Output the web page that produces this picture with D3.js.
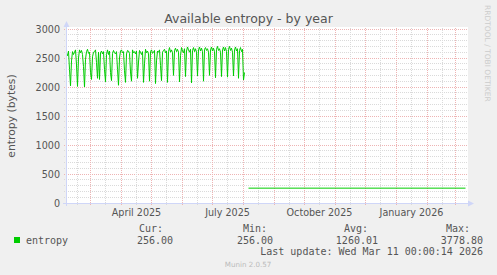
<!DOCTYPE html>
<html>
<head>
<meta charset="utf-8">
<script src="https://cdn.jsdelivr.net/npm/d3@7/dist/d3.min.js"></script>
<style>
  body { margin: 0; background: #f0f0f0; }
  svg text { font-family: "DejaVu Sans", sans-serif; }
  .mono { font-family: "DejaVu Sans Mono", monospace; }
</style>
</head>
<body>
<div id="chart"></div>
<script>
// ---- data ----
const chartTitle = 'Available entropy - by year';
const yLabel = 'entropy (bytes)';
const yTicks = [0, 500, 1000, 1500, 2000, 2500, 3000];
const monthLabels = ['2025-04-01', '2025-07-01', '2025-10-01', '2026-01-01'];
const monthLabelText = ['April 2025', 'July 2025', 'October 2025', 'January 2026'];

// one value per day, starting at dailyStart
const dailyStart = '2025-02-05';
const dailyValues = [
  2580, 2540, 2620, 2300, 2020, 2450, 2610,
  2560, 2600, 2640, 2380, 2010, 2500, 2640,
  2590, 2630, 2560, 2350, 2000, 2480, 2610,
  2650, 2580, 2600, 2250, 2130, 2520, 2600,
  2610, 2640, 2420, 2150, 2600, 2130, 2590,
  2620, 2570, 2610, 2300, 2090, 2560, 2640,
  2560, 2620, 2250, 2110, 2580, 2630, 2590,
  2570, 2610, 2300, 2030, 2500, 2620, 2640,
  2590, 2610, 2280, 2080, 2570, 2630, 2620,
  2580, 2260, 2100, 2640, 2590, 2610, 2570,
  2620, 2150, 2430, 2630, 2600, 2560, 2610,
  2080, 2400, 2650, 2590, 2620, 2570, 2100,
  2610, 2640, 2580, 2600, 2630, 2060, 2450,
  2620, 2600, 2640, 2370, 2110, 2600, 2630,
  2650, 2590, 2620, 2080, 2610, 2680, 2600,
  2640, 2590, 2200, 2630, 2670, 2610, 2650,
  2600, 2090, 2540, 2680, 2620, 2590, 2660,
  2180, 2620, 2690, 2640, 2600, 2650, 2070,
  2630, 2680, 2610, 2660, 2600, 2190, 2640,
  2690, 2620, 2670, 2610, 2100, 2650, 2680,
  2630, 2660, 2600, 2200, 2640, 2690, 2620,
  2670, 2610, 2160, 2650, 2700, 2630, 2660,
  2600, 2180, 2640, 2690, 2620, 2680, 2610,
  2170, 2650, 2700, 2630, 2670, 2600, 2190,
  2640, 2690, 2620, 2660, 2150, 2630, 2680,
  2610, 2650, 2120, 2250
];
// later flat segment
const flatDates = ['2025-08-06', '2026-03-11'];
const flatValues = [256, 256];

const legendName = 'entropy';
const legendHeads = ['Cur:', 'Min:', 'Avg:', 'Max:'];
const legendValues = ['256.00', '256.00', '1260.01', '3778.80'];
const lastUpdate = 'Last update: Wed Mar 11 00:00:14 2026';
const footer = 'Munin 2.0.57';
const sideText = 'RRDTOOL / TOBI OETIKER';

// ---- drawing ----
const W = 497, H = 275;
const plotLeft = 66, plotRight = 467, plotTop = 28, plotBottom = 203;
const parse = d3.utcParse('%Y-%m-%d');

const x = d3.scaleUtc()
  .domain([parse('2025-02-04'), parse('2026-03-11')])
  .range([65.5, 465.5]);
const y = d3.scaleLinear()
  .domain([0, 3000])
  .range([203, 29]);

const svg = d3.select('#chart').append('svg')
  .attr('width', W).attr('height', H);

svg.append('rect').attr('width', W).attr('height', H).attr('fill', '#f0f0f0');
svg.append('rect')
  .attr('x', plotLeft).attr('y', plotTop - 1)
  .attr('width', plotRight - plotLeft + 1).attr('height', plotBottom - plotTop + 2)
  .attr('fill', '#ffffff');

const crisp = v => Math.floor(v) + 0.5;
const minorColor = '#dadada', majorColor = '#eeb4b4';

// horizontal grid
const minorY = d3.range(0, 3001, 100).filter(v => v % 500 !== 0);
svg.append('g').selectAll('line').data(minorY).join('line')
  .attr('x1', plotLeft - 2).attr('x2', plotRight)
  .attr('y1', d => crisp(y(d))).attr('y2', d => crisp(y(d)))
  .attr('stroke', minorColor).attr('stroke-dasharray', '1,1');
svg.append('g').selectAll('line').data(yTicks.filter(v => v > 0)).join('line')
  .attr('x1', plotLeft - 2).attr('x2', plotRight)
  .attr('y1', d => crisp(y(d))).attr('y2', d => crisp(y(d)))
  .attr('stroke', majorColor).attr('stroke-dasharray', '1,1');

// vertical grid: month starts (major) and mid-month (minor)
const monthStarts = d3.utcMonth.range(parse('2025-02-01'), parse('2026-03-12'));
const months = monthStarts.filter(d => x(d) > plotLeft && x(d) < plotRight);
const mids = monthStarts
  .map(d => d3.utcDay.offset(d, 15))
  .filter(d => x(d) > plotLeft && x(d) < plotRight);
svg.append('g').selectAll('line').data(mids).join('line')
  .attr('x1', d => crisp(x(d))).attr('x2', d => crisp(x(d)))
  .attr('y1', plotTop).attr('y2', plotBottom + 3)
  .attr('stroke', minorColor).attr('stroke-dasharray', '1,1');
svg.append('g').selectAll('line').data(months).join('line')
  .attr('x1', d => crisp(x(d))).attr('x2', d => crisp(x(d)))
  .attr('y1', plotTop).attr('y2', plotBottom + 3)
  .attr('stroke', majorColor).attr('stroke-dasharray', '1,1');

// data lines
const daily = dailyValues.map((v, i) => ({ t: d3.utcDay.offset(parse(dailyStart), i), v: v }));
const flat = flatDates.map((d, i) => ({ t: parse(d), v: flatValues[i] }));
const line = d3.line()
  .x(d => x(d.t))
  .y(d => y(d.v));
[daily, flat].forEach(series => {
  svg.append('path')
    .datum(series)
    .attr('fill', 'none')
    .attr('stroke', '#00cc00')
    .attr('stroke-width', 1)
    .attr('stroke-linejoin', 'round')
    .attr('d', line);
});

// axes
const axisColor = '#cfd6f8';
svg.append('line')
  .attr('x1', plotLeft + 0.5).attr('x2', plotLeft + 0.5)
  .attr('y1', plotBottom + 3).attr('y2', plotTop - 5)
  .attr('stroke', axisColor);
svg.append('line')
  .attr('x1', plotLeft - 3).attr('x2', plotRight + 3)
  .attr('y1', plotBottom + 0.5).attr('y2', plotBottom + 0.5)
  .attr('stroke', axisColor);
svg.append('path')
  .attr('d', `M${plotLeft - 2.5},${plotTop - 1}L${plotLeft + 3.5},${plotTop - 1}L${plotLeft + 0.5},${plotTop - 7}Z`)
  .attr('fill', axisColor);
svg.append('path')
  .attr('d', `M${plotRight + 1},${plotBottom - 2.5}L${plotRight + 1},${plotBottom + 3.5}L${plotRight + 7},${plotBottom + 0.5}Z`)
  .attr('fill', axisColor);

// y tick labels
svg.append('g').selectAll('text').data(yTicks).join('text')
  .attr('x', 60).attr('y', d => y(d) + 3.5)
  .attr('text-anchor', 'end')
  .attr('font-size', '9.6px').attr('fill', '#555')
  .text(d => d);

// x labels (centred half a month after the month start)
svg.append('g').selectAll('text').data(monthLabels).join('text')
  .attr('x', d => x(d3.utcDay.offset(parse(d), 15)))
  .attr('y', 216)
  .attr('text-anchor', 'middle')
  .attr('font-size', '9.6px').attr('fill', '#555')
  .text((d, i) => monthLabelText[i]);

// title
svg.append('text')
  .attr('x', 248.5).attr('y', 23)
  .attr('text-anchor', 'middle')
  .attr('font-size', '12.5px').attr('fill', '#555')
  .text(chartTitle);

// y axis title
svg.append('text')
  .attr('transform', 'translate(15,116) rotate(-90)')
  .attr('text-anchor', 'middle')
  .attr('font-size', '10.8px').attr('fill', '#555')
  .text(yLabel);

// side watermark
svg.append('text')
  .attr('transform', 'translate(485,5) rotate(90)')
  .attr('font-size', '7.5px').attr('fill', '#cccccc')
  .text(sideText);

// legend
svg.append('rect')
  .attr('x', 14).attr('y', 237).attr('width', 6).attr('height', 6)
  .attr('fill', '#00cc00');
svg.append('text').attr('class', 'mono')
  .attr('x', 26).attr('y', 244)
  .attr('font-size', '10px').attr('fill', '#555')
  .text(legendName);
const headX = [163, 267, 368, 470];
const valX = [173, 273, 378, 483];
svg.append('g').selectAll('text').data(legendHeads).join('text')
  .attr('class', 'mono')
  .attr('x', (d, i) => headX[i]).attr('y', 232)
  .attr('text-anchor', 'end')
  .attr('font-size', '10px').attr('fill', '#555')
  .text(d => d);
svg.append('g').selectAll('text').data(legendValues).join('text')
  .attr('class', 'mono')
  .attr('x', (d, i) => valX[i]).attr('y', 244)
  .attr('text-anchor', 'end')
  .attr('font-size', '10px').attr('fill', '#555')
  .text(d => d);
svg.append('text').attr('class', 'mono')
  .attr('x', 483).attr('y', 255)
  .attr('text-anchor', 'end')
  .attr('font-size', '10px').attr('fill', '#555')
  .text(lastUpdate);
svg.append('text')
  .attr('x', 248).attr('y', 267)
  .attr('text-anchor', 'middle')
  .attr('font-size', '7.1px').attr('fill', '#bbbbbb')
  .text(footer);
</script>
</body>
</html>
